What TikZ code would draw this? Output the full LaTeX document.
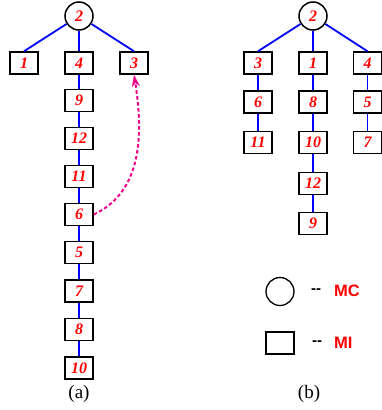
\documentclass[tikz,border=0pt]{standalone}
\usepackage{fontspec}
\setmainfont{Liberation Serif}
\newfontfamily\arialfont{Liberation Sans}
\usetikzlibrary{arrows.meta}
\begin{document}
\begin{tikzpicture}[x=1pt,y=-1pt,
  lbl/.style={font=\fontsize{16}{16}\selectfont\bfseries\itshape, text=red},
  mibox/.style={draw, line width=1.5pt, minimum width=28pt, minimum height=22pt, inner sep=0pt, lbl},
  mcnode/.style={draw, circle, line width=1.5pt, minimum size=28pt, inner sep=0pt, lbl},
  edge/.style={blue, line width=1.8pt},
  jump/.style={magenta, line width=2pt, dash pattern=on 3.5pt off 2.5pt, -{Stealth[length=12pt,width=8pt]}},
  legtext/.style={font=\arialfont\fontsize{16.5}{16.5}\selectfont\bfseries, text=red},
  dashtext/.style={font=\arialfont\fontsize{15}{15}\selectfont\bfseries},
  caption/.style={font=\fontsize{19}{19}\selectfont}
]
\useasboundingbox (0,0) rectangle (381,410);
% ---- (a) ----
\node[mcnode] (a2) at (79,16) {2};
\node[mibox] (a1) at (24,63) {1};
\node[mibox] (a4) at (79,63) {4};
\node[mibox] (a3) at (134,63) {3};
\node[mibox] (a9) at (79,100.5) {9};
\node[mibox] (a12) at (79,138.5) {12};
\node[mibox] (a11) at (79,176.5) {11};
\node[mibox] (a6) at (79,214.5) {6};
\node[mibox] (a5) at (79,252.5) {5};
\node[mibox] (a7) at (79,291) {7};
\node[mibox] (a8) at (79,329.5) {8};
\node[mibox] (a10) at (79,368) {10};
\draw[edge] (a2) -- (a1.north);
\draw[edge] (a2) -- (a4.north);
\draw[edge] (a2) -- (a3.north);
\draw[edge] (a4) -- (a9);
\draw[edge] (a9) -- (a12);
\draw[edge] (a12) -- (a11);
\draw[edge] (a11) -- (a6);
\draw[edge] (a6) -- (a5);
\draw[edge] (a5) -- (a7);
\draw[edge] (a7) -- (a8);
\draw[edge] (a8) -- (a10);
\draw[jump] (a6.east) .. controls (135,195) and (146,150) .. (a3.south);
\node[caption] (capa) at (79,394) {(a)};
% ---- (b) ----
\node[mcnode] (b2) at (313,16) {2};
\node[mibox] (b3) at (258,63) {3};
\node[mibox] (b1) at (313,63) {1};
\node[mibox] (b4) at (367.5,63) {4};
\node[mibox] (b6) at (258,102) {6};
\node[mibox] (b11) at (258,142.5) {11};
\node[mibox] (b8) at (313,102) {8};
\node[mibox] (b10) at (313,142.5) {10};
\node[mibox] (b12) at (313,183.5) {12};
\node[mibox] (b9) at (313,223.5) {9};
\node[mibox] (b5) at (367.5,102) {5};
\node[mibox] (b7) at (367.5,142.5) {7};
\draw[edge] (b2) -- (b3.north);
\draw[edge] (b2) -- (b1.north);
\draw[edge] (b2) -- (b4.north);
\draw[edge] (b3) -- (b6);
\draw[edge] (b6) -- (b11);
\draw[edge] (b1) -- (b8);
\draw[edge] (b8) -- (b10);
\draw[edge] (b10) -- (b12);
\draw[edge] (b12) -- (b9);
\draw[edge] (b4) -- (b5);
\draw[edge] (b5) -- (b7);
% ---- legend ----
\node[draw, circle, line width=1.3pt, minimum size=28pt, inner sep=0pt] (lc) at (280,291.5) {};
\node[dashtext] (ld1) at (316,291) {-{}-};
\node[legtext, anchor=west] (lmc) at (330.5,290.5) {MC};
\node[draw, line width=1.3pt, minimum width=28pt, minimum height=22pt, inner sep=0pt] (lr) at (280,343) {};
\node[dashtext] (ld2) at (317,343) {-{}-};
\node[legtext, anchor=west] (lmi) at (330.5,343) {MI};
\node[caption] (capb) at (309,394) {(b)};
\end{tikzpicture}
\end{document}
